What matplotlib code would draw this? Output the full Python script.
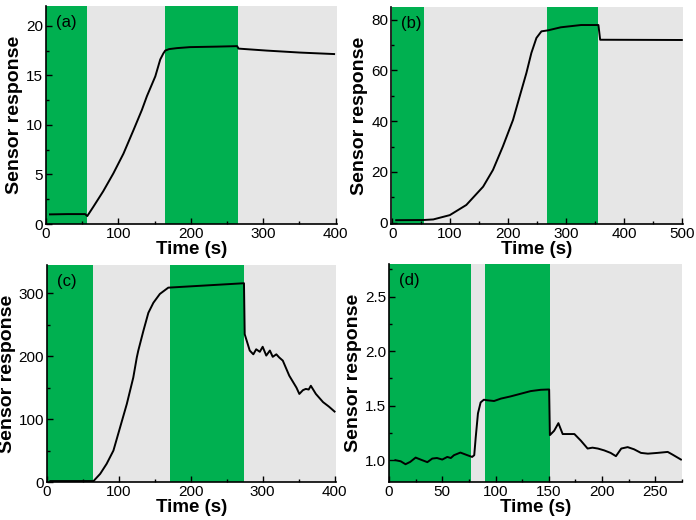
import numpy as np
import matplotlib
matplotlib.use("Agg")
import matplotlib.pyplot as plt
from matplotlib.ticker import MultipleLocator

plt.rcParams['font.family'] = ['Liberation Sans', 'DejaVu Sans']

GREEN = "#00b050"
GRAY = "#e6e6e6"

# panel (a)
t_a = [5.5, 30, 54, 57, 65.5, 79, 93, 107, 121, 132.4, 139.4, 151, 157.8, 162, 164.7,
       170, 181, 199, 236, 264, 266, 305, 351, 398]
r_a = [0.97, 1.0, 1.0, 0.8, 1.75, 3.3, 5.1, 7.1, 9.5, 11.5, 12.9, 14.9, 16.6, 17.2, 17.5,
       17.65, 17.75, 17.85, 17.9, 17.95, 17.7, 17.5, 17.3, 17.15]
bands_a = [(0, 57), (165, 265)]

# panel (b)
t_b = [7, 54, 71, 99.5, 128, 157, 174, 191, 208.6, 220, 231.7, 240.3, 249, 257.6, 269,
       291, 326, 356, 359, 500]
r_b = [1.0, 1.07, 1.3, 3.0, 7.0, 14.2, 20.8, 30, 40.5, 49.7, 59, 66.9, 72.8, 75.4, 75.8,
       77, 77.9, 77.9, 72.1, 72.0]
bands_b = [(0, 55), (267, 356)]

# panel (c)
t_c = [4.6, 64.7, 74, 83, 92.4, 101.7, 111, 120, 124.9, 127, 134, 141, 148, 157, 168.7,
       274, 275, 282, 287, 291, 296, 300, 305, 310, 314, 319, 323, 328, 337, 347, 351,
       356, 360, 364, 367, 374, 384, 392, 400]
r_c = [1.5, 1.5, 13, 29, 50, 87, 124, 166, 198, 209, 240, 269, 285, 299, 309,
       316, 235, 209, 203, 211, 207, 215, 201, 209, 199, 203, 198, 193, 169, 150, 140,
       146, 148, 147, 153, 140, 127, 120, 112]
bands_c = [(0, 64), (171, 274)]

# panel (d)
t_d = [6, 11, 15.5, 20, 25, 29.6, 36, 40.6, 45, 50, 54.7, 58, 61, 67, 73.5, 78, 80,
       81.4, 83.5, 86, 89, 92, 98.6, 105, 114, 123.7, 133, 142.5, 150.3, 151, 155, 159,
       163, 167.6, 174, 180, 186.4, 191, 196, 202, 208, 213, 218, 224, 230, 236.5, 243,
       252, 261.6, 266, 274]
r_d = [1.0, 0.99, 0.963, 0.985, 1.024, 1.006, 0.982, 1.015, 1.02, 1.006, 1.03, 1.02,
       1.046, 1.07, 1.046, 1.03, 1.046, 1.21, 1.43, 1.53, 1.555, 1.55, 1.543, 1.565,
       1.585, 1.61, 1.634, 1.646, 1.649, 1.23, 1.27, 1.34, 1.24, 1.24, 1.24, 1.18, 1.107,
       1.115, 1.107, 1.09, 1.067, 1.037, 1.107, 1.12, 1.1, 1.067, 1.06, 1.067, 1.076,
       1.052, 1.006]
bands_d = [(0, 77), (90, 151)]

W, H = 696, 520
fig = plt.figure(figsize=(W / 100, H / 100), dpi=100)


def make_axes(left, right, top, bottom):
    return fig.add_axes([left / W, 1 - bottom / H, (right - left) / W, (bottom - top) / H])


panels = [
    (make_axes(46, 337, 6, 224), t_a, r_a, bands_a, (0, 402), (0, 22), 100, 50, 5, 2.5, "(a)"),
    (make_axes(391, 683, 7, 224), t_b, r_b, bands_b, (-2, 502), (-0.5, 85), 100, 50, 20, 10, "(b)"),
    (make_axes(47, 336, 265, 482), t_c, r_c, bands_c, (0, 402), (0, 345), 100, 50, 100, 50, "(c)"),
    (make_axes(389, 682, 264, 482), t_d, r_d, bands_d, (0, 275), (0.8, 2.8), 50, 25, 0.5, 0.25, "(d)"),
]

for ax, t, r, bands, xlim, ylim, xmaj, xmin, ymaj, ymin, tag in panels:
    ax.set_facecolor(GRAY)
    for a, b in bands:
        ax.axvspan(a, b, color=GREEN, lw=0)
    ax.plot(t, r, color="black", lw=1.4)
    ax.set_xlim(*xlim)
    ax.set_ylim(*ylim)
    ax.xaxis.set_major_locator(MultipleLocator(xmaj))
    ax.xaxis.set_minor_locator(MultipleLocator(xmin))
    ax.yaxis.set_major_locator(MultipleLocator(ymaj))
    ax.yaxis.set_minor_locator(MultipleLocator(ymin))
    ax.spines['top'].set_visible(False)
    ax.spines['right'].set_visible(False)
    ax.spines['left'].set_linewidth(1.2)
    ax.spines['bottom'].set_linewidth(1.2)
    ax.tick_params(which='major', direction='in', length=4, width=1, labelsize=11, pad=2)
    ax.tick_params(which='minor', direction='in', length=2, width=1)
    ax.set_xlabel("Time (s)", fontsize=13.5, fontweight='bold', labelpad=0)
    ax.set_ylabel("Sensor response", fontsize=14, fontweight='bold', labelpad=2)
    ax.text(0.035, 0.925, tag, transform=ax.transAxes, fontsize=12, va='center', ha='left')

fig.savefig("out.png", dpi=100)
